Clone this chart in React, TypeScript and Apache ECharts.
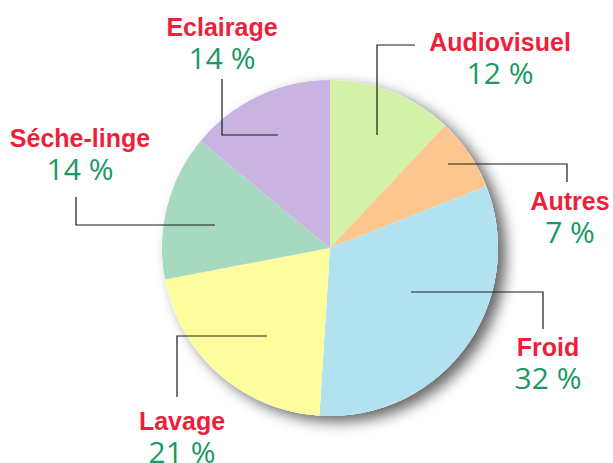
import React, { useEffect, useRef } from "react";
import * as echarts from "echarts";

// ---- data ----
const categories = ["Audiovisuel", "Autres", "Froid", "Lavage", "Séche-linge", "Eclairage"];
const values = [12, 7, 32, 21, 14, 14];
const sliceColors = ["#d3f2a8", "#fdc68e", "#b2e2f0", "#fdfd9e", "#a6d9c0", "#c9b3e1"];

// ---- label placement (layout only) ----
const labelPlacement = [
  { x: 500, y: 57, line: [[377, 135], [377, 45], [415, 45]] },
  { x: 570, y: 216, line: [[448, 164], [567, 164], [567, 182]] },
  { x: 548, y: 362, line: [[411, 292], [543, 292], [543, 329]] },
  { x: 182, y: 436, line: [[267, 336], [177, 336], [177, 397]] },
  { x: 80, y: 153, line: [[215, 225], [76, 225], [76, 197]] },
  { x: 222, y: 42, line: [[278, 135], [222, 135], [222, 79]] },
];

const CENTER: [number, number] = [330, 248];
const RADIUS = 168;

export default function App() {
  const ref = useRef<HTMLDivElement>(null);
  useEffect(() => {
    document.body.style.margin = "0";
    if (!ref.current) return;
    const chart = echarts.init(ref.current, undefined, { renderer: "svg" });
    const pieData = categories.map((name, i) => ({
      name,
      value: values[i],
      itemStyle: { color: sliceColors[i] },
    }));
    chart.setOption({
      animation: false,
      backgroundColor: "#ffffff",
      series: [
        {
          type: "pie",
          silent: true,
          z: 1,
          center: CENTER,
          radius: RADIUS,
          label: { show: false },
          labelLine: { show: false },
          data: [
            {
              value: 1,
              itemStyle: {
                color: "#ffffff",
                shadowBlur: 14,
                shadowColor: "rgba(0,0,0,0.6)",
                shadowOffsetX: 8,
                shadowOffsetY: 6,
              },
            },
          ],
        },
        {
          type: "pie",
          z: 2,
          silent: true,
          center: CENTER,
          radius: RADIUS,
          startAngle: 90,
          clockwise: true,
          emphasis: { disabled: true },
          itemStyle: { borderWidth: 0 },
          label: { show: false },
          labelLine: { show: false },
          data: pieData,
        },
        {
          type: "pie",
          z: 3,
          silent: true,
          center: CENTER,
          radius: RADIUS,
          startAngle: 90,
          clockwise: true,
          emphasis: { disabled: true },
          itemStyle: { color: "rgba(0,0,0,0)", borderWidth: 0 },
          data: categories.map((name, i) => ({ name, value: values[i] })),
          label: {
            show: true,
            position: "outside",
            overflow: "none",
            formatter: "{n|{b}}\n{p|{c} %}",
            rich: {
              n: {
                fontFamily: "Liberation Sans, Arial, sans-serif",
                fontWeight: "bold",
                fontSize: 25,
                color: "#ee1f3b",
                lineHeight: 31,
                align: "center",
              },
              p: {
                fontFamily: "Open Sans, Liberation Sans, sans-serif",
                fontWeight: 400,
                fontSize: 30,
                color: "#1a9868",
                lineHeight: 31,
                align: "center",
              },
            },
          },
          labelLine: {
            show: true,
            smooth: false,
            lineStyle: { color: "#1a1a1a", width: 1.2 },
          },
          labelLayout: (params: any) => {
            const p = labelPlacement[params.dataIndex];
            return {
              x: p.x,
              y: p.y,
              align: "center",
              verticalAlign: "middle",
              labelLinePoints: p.line,
            };
          },
        },
      ],
    });
    return () => chart.dispose();
  }, []);
  return <div ref={ref} style={{ width: 613, height: 463 }} />;
}
